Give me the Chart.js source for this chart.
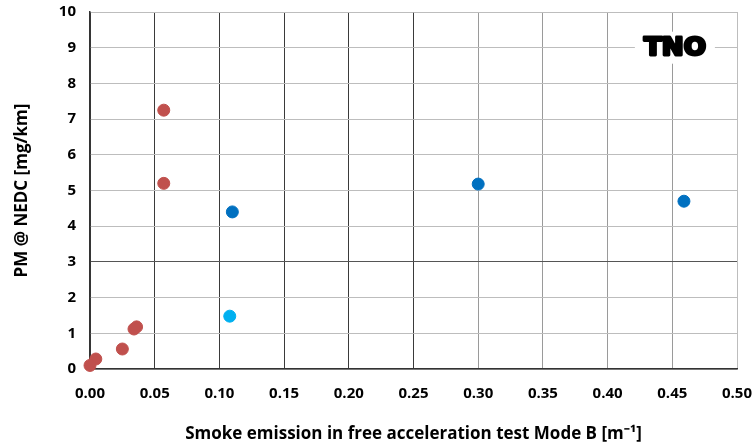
<!DOCTYPE html>
<html><head><meta charset="utf-8">
<script src="https://cdn.jsdelivr.net/npm/chart.js@4"></script>
<style>html,body{margin:0;padding:0;background:#fff}#w{width:755px;height:448px}</style>
</head><body><div id="w"><canvas id="c"></canvas></div>
<script>
const redX = [0.057, 0.057, 0.036, 0.034, 0.025, 0.0045, 0.0];
const redY = [7.25, 5.2, 1.18, 1.12, 0.56, 0.28, 0.1];
const blueX = [0.110, 0.300, 0.459];
const blueY = [4.4, 5.18, 4.7];
const lightX = [0.108];
const lightY = [1.48];
const xTicks = [0,0.05,0.10,0.15,0.20,0.25,0.30,0.35,0.40,0.45,0.50];
const yTicks = [0,1,2,3,4,5,6,7,8,9,10];
const xTitle = 'Smoke emission in free acceleration test Mode B [m\u207B\u00B9]';
const yTitle = 'PM @ NEDC [mg/km]';
const logoText = 'TNO';

const pts = (xs, ys) => xs.map((x, i) => ({x, y: ys[i]}));
const FONT = "'Open Sans', 'Liberation Sans', sans-serif";

const logo = {
  id: 'logo',
  afterDraw(chart) {
    const ctx = chart.ctx;
    const xs = chart.scales.x, ys = chart.scales.y;
    const cx = xs.getPixelForValue(0.452), cy = ys.getPixelForValue(9.0);
    ctx.save();
    ctx.fillStyle = '#fff';
    ctx.fillRect(cx - 40, cy - 16, 80, 32);
    ctx.fillStyle = '#000';
    ctx.font = "900 26px 'DejaVu Sans'";
    ctx.textAlign = 'center';
    ctx.textBaseline = 'middle';
    const w = ctx.measureText(logoText).width;
    ctx.translate(cx, cy);
    ctx.scale(62 / w, 0.95);
    ctx.lineWidth = 3;
    ctx.lineJoin = 'round';
    ctx.strokeStyle = '#000';
    ctx.strokeText(logoText, 0, 1);
    ctx.fillText(logoText, 0, 1);
    ctx.restore();
  }
};

new Chart(document.getElementById('c'), {
  type: 'scatter',
  data: {
    datasets: [
      {data: pts(redX, redY), backgroundColor: '#C0504D', borderColor: '#C0504D', pointRadius: 6, pointHoverRadius: 6, clip: false},
      {data: pts(blueX, blueY), backgroundColor: '#0070C0', borderColor: '#0070C0', pointRadius: 6, pointHoverRadius: 6, clip: false},
      {data: pts(lightX, lightY), backgroundColor: '#00B0F0', borderColor: '#00B0F0', pointRadius: 6, pointHoverRadius: 6, clip: false}
    ]
  },
  options: {
    responsive: true, maintainAspectRatio: false, animation: false,
    layout: {padding: {top: 12, right: 18, left: 0, bottom: 0}},
    plugins: {legend: {display: false}, tooltip: {enabled: false}},
    scales: {
      x: {
        type: 'linear', min: 0, max: 0.5,
        afterBuildTicks: s => { s.ticks = xTicks.map(v => ({value: v})); },
        afterFit: s => { s.height = 79; s.paddingLeft = 0; s.paddingRight = 0; s.paddingTop = 0; s.paddingBottom = 0; },
        grid: {
          drawTicks: false,
          color: c => { const v = c.tick ? c.tick.value : 0; return v <= 0.251 ? '#3a3a3a' : (v < 0.49 ? '#9a9a9a' : '#bdbdbd'); }
        },
        border: {color: '#333', width: 1.5},
        ticks: {padding: 16, color: '#000', font: {family: FONT, weight: 'bold', size: 15},
          callback: v => Number(v).toFixed(2)},
        title: {display: true, text: xTitle, color: '#000', font: {family: FONT, weight: 'bold', size: 17}, padding: {top: 18}}
      },
      y: {
        type: 'linear', min: 0, max: 10,
        afterBuildTicks: s => { s.ticks = yTicks.map(v => ({value: v})); },
        afterFit: s => { s.width = 90; s.paddingLeft = 0; s.paddingRight = 0; s.paddingTop = 0; s.paddingBottom = 0; },
        grid: {
          drawTicks: false,
          color: c => { const v = c.tick ? c.tick.value : 0; return v === 3 ? '#555' : '#bdbdbd'; }
        },
        border: {color: '#333', width: 1.5},
        ticks: {padding: 14, color: '#000', font: {family: FONT, weight: 'bold', size: 15}},
        title: {display: true, text: yTitle, color: '#000', font: {family: FONT, weight: 'bold', size: 17}, padding: {top: 12, bottom: 0}}
      }
    }
  },
  plugins: [logo]
});
</script></body></html>
